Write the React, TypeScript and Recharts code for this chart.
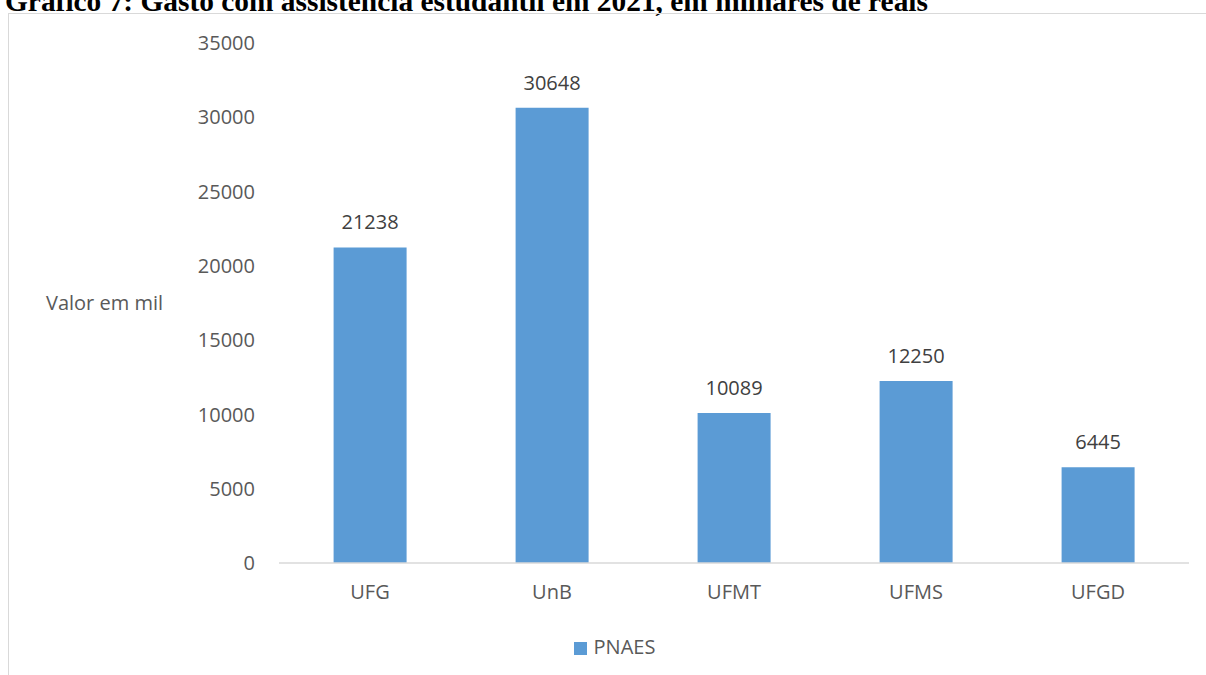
import { BarChart, Bar, XAxis, YAxis, Legend, LabelList } from "recharts";

const universities = ["UFG", "UnB", "UFMT", "UFMS", "UFGD"];
const pnaes = [21238, 30648, 10089, 12250, 6445];
const yTicks = [0, 5000, 10000, 15000, 20000, 25000, 30000, 35000];

const title = "Gráfico 7: Gasto com assistência estudantil em 2021, em milhares de reais";

const data = universities.map((name, i) => ({ name, pnaes: pnaes[i] }));

const FONT = "'Open Sans', 'DejaVu Sans', sans-serif";
const GREY = "#595959";

export default function App() {
  return (
    <div style={{ position: "absolute", left: 0, top: 0, width: 1206, height: 675, overflow: "hidden", background: "#fff" }}>
      {/* title is clipped at the top edge, as in the source page */}
      <svg width={1206} height={30} style={{ position: "absolute", left: 0, top: 0 }}>
        <text x={5} y={11} fontFamily="'Liberation Serif', serif" fontWeight="bold" fontSize={29.4} fill="#000">
          {title}
        </text>
      </svg>
      <div
        style={{
          position: "absolute",
          left: 8,
          top: 13,
          width: 1300,
          height: 800,
          border: "1px solid #d9d9d9",
        }}
      />
      <div style={{ position: "absolute", left: 0, top: 0 }}>
        <BarChart
          width={1206}
          height={675}
          data={data}
          margin={{ top: 43, right: 17, left: 36, bottom: 55 }}
          barCategoryGap="30%"
        >
          <XAxis
            dataKey="name"
            axisLine={{ stroke: "#d9d9d9", strokeWidth: 1.5 }}
            tickLine={false}
            tickSize={0}
            tickMargin={22}
            tick={{ fontSize: 20, fill: GREY, fontFamily: FONT }}
          />
          <YAxis
            width={243}
            domain={[0, 35000]}
            ticks={yTicks}
            axisLine={false}
            tickLine={false}
            tickSize={0}
            tickMargin={24}
            tick={{ fontSize: 20, fill: GREY, fontFamily: FONT }}
            label={{
              value: "Valor em mil",
              position: "insideLeft",
              offset: 10,
              fontSize: 20,
              fill: GREY,
              fontFamily: FONT,
            }}
          />
          <Legend
            verticalAlign="bottom"
            iconType="square"
            iconSize={13}
            wrapperStyle={{ fontSize: 20, fontFamily: FONT, bottom: 15, paddingLeft: 7 }}
            formatter={(v) => <span style={{ color: GREY, marginLeft: 3 }}>{v}</span>}
          />
          <Bar dataKey="pnaes" name="PNAES" fill="#5b9bd5" isAnimationActive={false}>
            <LabelList dataKey="pnaes" position="top" offset={18} fontSize={20} fill="#404040" fontFamily={FONT} />
          </Bar>
        </BarChart>
      </div>
    </div>
  );
}
